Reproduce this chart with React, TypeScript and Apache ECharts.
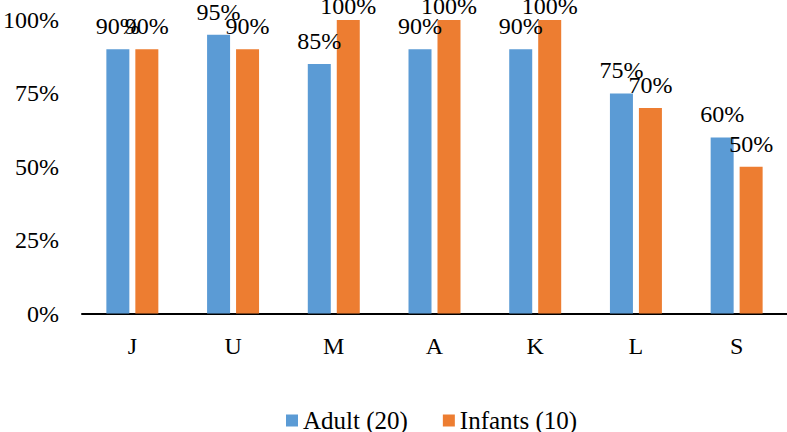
import React, { useEffect, useRef } from "react";
import * as echarts from "echarts";

const categories = ["J", "U", "M", "A", "K", "L", "S"];
const adultValues = [90, 95, 85, 90, 90, 75, 60];
const infantValues = [90, 90, 100, 100, 100, 70, 50];
const seriesNames = ["Adult (20)", "Infants (10)"];
const yTicks = [0, 25, 50, 75, 100];

const FONT = "Liberation Serif";

function toData(values: number[]) {
  return values.map((v) =>
    v >= 100 ? { value: v, label: { distance: 2 } } : { value: v }
  );
}

export default function App() {
  const ref = useRef<HTMLDivElement>(null);
  useEffect(() => {
    if (!ref.current) return;
    const chart = echarts.init(ref.current, undefined, { renderer: "svg" });
    const labelCfg = {
      show: true,
      position: "top" as const,
      distance: 11,
      formatter: "{c}%",
      color: "#000",
      fontFamily: FONT,
      fontSize: 24,
    };
    chart.setOption({
      animation: false,
      backgroundColor: "#fff",
      textStyle: { fontFamily: FONT },
      grid: { left: 79, right: 0, top: 20, bottom: 118.5, containLabel: false },
      legend: {
        data: seriesNames,
        left: 281,
        top: 403,
        itemWidth: 12,
        itemHeight: 12,
        itemGap: 35,
        icon: "rect",
        textStyle: { fontFamily: FONT, fontSize: 25, color: "#000" },
      },
      xAxis: {
        type: "category",
        data: categories,
        axisLine: { lineStyle: { color: "#000", width: 2 } },
        axisTick: { show: false },
        axisLabel: { color: "#000", fontFamily: FONT, fontSize: 24, margin: 20 },
      },
      yAxis: {
        type: "value",
        min: yTicks[0],
        max: yTicks[yTicks.length - 1],
        interval: 25,
        axisLine: { show: false },
        axisTick: { show: false },
        splitLine: { show: false },
        axisLabel: {
          color: "#000",
          fontFamily: FONT,
          fontSize: 24,
          margin: 23,
          formatter: "{value}%",
        },
      },
      series: [
        {
          name: seriesNames[0],
          type: "bar",
          data: toData(adultValues),
          itemStyle: { color: "#5B9BD5" },
          barWidth: 23,
          barGap: "26%",
          label: labelCfg,
        },
        {
          name: seriesNames[1],
          type: "bar",
          data: toData(infantValues),
          itemStyle: { color: "#ED7D31" },
          barWidth: 23,
          barGap: "26%",
          label: labelCfg,
        },
      ],
    });
    return () => chart.dispose();
  }, []);
  return (
    <div
      ref={ref}
      style={{ position: "fixed", left: 0, top: 0, width: 787, height: 432 }}
    />
  );
}
